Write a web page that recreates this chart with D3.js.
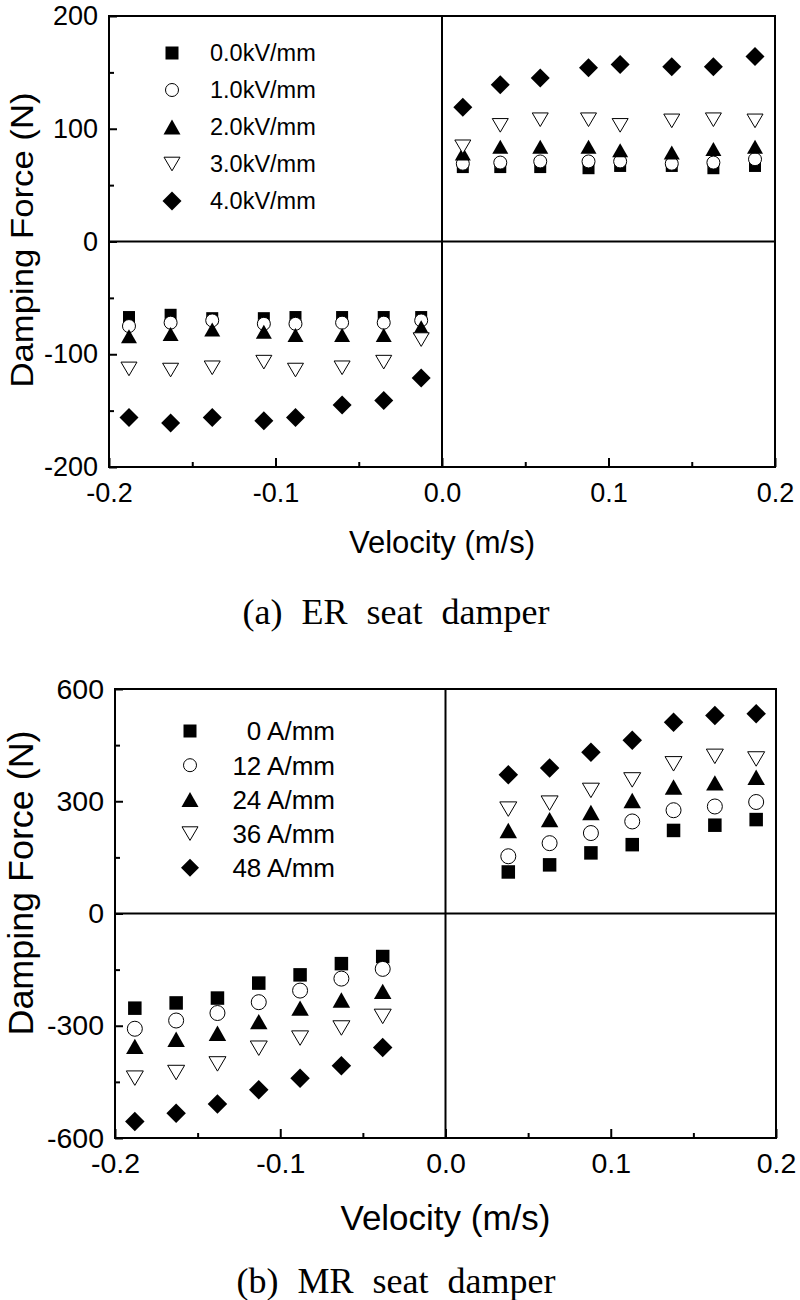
<!DOCTYPE html>
<html>
<head>
<meta charset="utf-8">
<script src="https://cdn.jsdelivr.net/npm/d3@7"></script>
<style>
    body { margin: 0; background: white; }
    svg { display: block; }
    text { font-family: "Liberation Sans", Arial, sans-serif; fill: black; }
    .caption { font-family: "Liberation Serif", "Times New Roman", serif; }
</style>
</head>
<body>
<svg id="chart" width="800" height="1300"></svg>
<script>
    // (a) ER seat damper
    let erVelocity = [-0.188, -0.163, -0.138, -0.107, -0.088, -0.060, -0.035, -0.0125,
        0.0125, 0.035, 0.059, 0.088, 0.107, 0.138, 0.163, 0.188]
    let erForce00 = [-67, -65, -68, -68, -67, -67, -67, -67, 66, 66, 66, 65, 67, 67, 65, 67]
    let erForce10 = [-75, -72, -70, -73, -73, -72, -72, -70, 69, 70, 71, 71, 71, 69, 70, 73]
    let erForce20 = [-84, -82, -78, -80, -83, -83, -83, -76, 78, 84, 84, 84, 81, 79, 82, 84]
    let erForce30 = [-113, -114, -112, -107, -114, -112, -107, -87, 84, 103, 108, 108, 103, 107, 108, 107]
    let erForce40 = [-156, -161, -156, -159, -156, -145, -141, -121, 119, 139, 145, 154, 157, 155, 155, 164]
    let erLabels = ["0.0kV/mm", "1.0kV/mm", "2.0kV/mm", "3.0kV/mm", "4.0kV/mm"]
    let erYTicks = [-200, -100, 0, 100, 200]
    let erYMinor = [-150, -50, 50, 150]

    // (b) MR seat damper
    let mrVelocity = [-0.188, -0.163, -0.138, -0.113, -0.088, -0.063, -0.038,
        0.038, 0.063, 0.088, 0.113, 0.138, 0.163, 0.188]
    let mrForce0 = [-253, -239, -226, -186, -164, -134, -115, 111, 130, 162, 184, 222, 236, 251]
    let mrForce12 = [-308, -286, -266, -237, -206, -174, -148, 153, 188, 215, 246, 276, 286, 298]
    let mrForce24 = [-355, -336, -320, -289, -253, -231, -208, 222, 251, 270, 302, 338, 349, 364]
    let mrForce36 = [-440, -425, -402, -360, -333, -306, -275, 279, 295, 329, 357, 400, 420, 413]
    let mrForce48 = [-556, -534, -509, -471, -440, -407, -358, 371, 389, 431, 463, 511, 529, 534]
    let mrLabels = ["0 A/mm", "12 A/mm", "24 A/mm", "36 A/mm", "48 A/mm"]
    let mrYTicks = [-600, -300, 0, 300, 600]
    let mrYMinor = [-450, -150, 150, 450]

    let xTicks = [-0.2, -0.1, 0.0, 0.1, 0.2]
    let xMinor = [-0.15, -0.05, 0.05, 0.15]

    // SYMBOLS (size = nominal width in px)
    let square = { draw(ctx, s) { ctx.rect(-s / 2, -s / 2, s, s) } }
    let circle = { draw(ctx, s) { ctx.moveTo(s / 2, 0); ctx.arc(0, 0, s / 2, 0, 2 * Math.PI) } }
    let triUp = { draw(ctx, s) { let h = s * 0.88; ctx.moveTo(0, -h / 2); ctx.lineTo(s / 2, h / 2); ctx.lineTo(-s / 2, h / 2); ctx.closePath() } }
    let triDown = { draw(ctx, s) { let h = s * 0.85; ctx.moveTo(0, h / 2); ctx.lineTo(s / 2, -h / 2); ctx.lineTo(-s / 2, -h / 2); ctx.closePath() } }
    let diamond = { draw(ctx, s) { ctx.moveTo(0, -s / 2); ctx.lineTo(s / 2, 0); ctx.lineTo(0, s / 2); ctx.lineTo(-s / 2, 0); ctx.closePath() } }
    let symbolTypes = [square, circle, triUp, triDown, diamond]
    let symbolFilled = [true, false, true, false, true]

    let svg = d3.select("#chart")

    drawPanel({
        velocity: erVelocity,
        series: [erForce00, erForce10, erForce20, erForce30, erForce40],
        labels: erLabels, yTicks: erYTicks, yMinor: erYMinor,
        yDomain: [-200, 200],
        left: 109, right: 775, top: 16, bottom: 467,
        sizes: [12, 13, 16, 16, 19],
        tickFont: 27, titleFont: 31, titleCenter: 240, titleLength: 295,
        xTitleY: 553,
        legend: { symX: 172, textX: 210, y0: 53, step: 37, font: 23.5, anchor: "start", sizes: [13, 13, 17, 16, 19] },
        caption: "(a) ER seat damper", captionY: 624
    })

    drawPanel({
        velocity: mrVelocity,
        series: [mrForce0, mrForce12, mrForce24, mrForce36, mrForce48],
        labels: mrLabels, yTicks: mrYTicks, yMinor: mrYMinor,
        yDomain: [-600, 600],
        left: 115, right: 776, top: 689, bottom: 1138,
        sizes: [13.5, 15, 17.5, 17, 19.5],
        tickFont: 28.5, titleFont: 35, titleCenter: 883, titleLength: 305,
        xTitleY: 1230,
        legend: { symX: 190, textX: 335, y0: 731, step: 34.2, font: 26, anchor: "end", sizes: [13, 13, 17, 16, 18] },
        caption: "(b) MR seat damper", captionY: 1293
    })

    function drawPanel(cfg) {
        let xScale = d3.scaleLinear().domain([-0.2, 0.2]).range([cfg.left, cfg.right])
        let yScale = d3.scaleLinear().domain(cfg.yDomain).range([cfg.bottom, cfg.top])
        let g = svg.append("g")

        // zero lines
        g.append("line")
            .attr("x1", cfg.left).attr("x2", cfg.right)
            .attr("y1", yScale(0)).attr("y2", yScale(0))
            .attr("stroke", "black").attr("stroke-width", 2)
        g.append("line")
            .attr("x1", xScale(0)).attr("x2", xScale(0))
            .attr("y1", cfg.top).attr("y2", cfg.bottom)
            .attr("stroke", "black").attr("stroke-width", 2)

        // axes, ticks pointing inward
        let yAxis = d3.axisLeft(yScale).tickValues(cfg.yTicks).tickSize(-8).tickPadding(11)
            .tickFormat(d3.format("d"))
        let yAxisG = g.append("g").attr("transform", `translate(${cfg.left},0)`).call(yAxis)
        let yMinorG = g.append("g").attr("transform", `translate(${cfg.left},0)`)
            .call(d3.axisLeft(yScale).tickValues(cfg.yMinor).tickSize(-5).tickFormat(""))

        let xAxis = d3.axisBottom(xScale).tickValues(xTicks).tickSize(-9).tickFormat(d3.format(".1f"))
        let xAxisG = g.append("g").attr("transform", `translate(0,${cfg.bottom})`).call(xAxis)
        let xMinorG = g.append("g").attr("transform", `translate(0,${cfg.bottom})`)
            .call(d3.axisBottom(xScale).tickValues(xMinor).tickSize(-5).tickFormat(""))

        for (let a of [yAxisG, yMinorG, xAxisG, xMinorG]) {
            a.select(".domain").remove()
            a.selectAll("line").attr("stroke", "black").attr("stroke-width", 2)
            a.selectAll("text").attr("font-size", cfg.tickFont).attr("fill", "black")
                .attr("font-family", "'Liberation Sans', Arial, sans-serif")
        }
        yAxisG.selectAll("text").text(d => d3.format("d")(d).replace("−", "-"))
        xAxisG.selectAll("text").text(d => d3.format(".1f")(d).replace("−", "-"))
            .attr("y", 35).attr("dy", null)

        // frame
        g.append("rect")
            .attr("x", cfg.left).attr("y", cfg.top)
            .attr("width", cfg.right - cfg.left).attr("height", cfg.bottom - cfg.top)
            .attr("fill", "none").attr("stroke", "black").attr("stroke-width", 2)

        // data points
        cfg.series.forEach((values, i) => {
            let sym = d3.symbol().type(symbolTypes[i]).size(cfg.sizes[i])
            g.append("g").selectAll("path")
                .data(values.map((v, j) => ({ x: cfg.velocity[j], y: v })))
                .enter().append("path")
                .attr("d", sym)
                .attr("transform", d => `translate(${xScale(d.x)},${yScale(d.y)})`)
                .attr("fill", symbolFilled[i] ? "black" : "white")
                .attr("stroke", "black")
                .attr("stroke-width", symbolFilled[i] ? 0 : 1)
        })

        // legend
        let lg = cfg.legend
        cfg.labels.forEach((label, i) => {
            let y = lg.y0 + i * lg.step
            g.append("path")
                .attr("d", d3.symbol().type(symbolTypes[i]).size(lg.sizes[i]))
                .attr("transform", `translate(${lg.symX},${y})`)
                .attr("fill", symbolFilled[i] ? "black" : "white")
                .attr("stroke", "black")
                .attr("stroke-width", symbolFilled[i] ? 0 : 1)
            g.append("text")
                .attr("x", lg.textX).attr("y", y + lg.font * 0.36)
                .attr("text-anchor", lg.anchor)
                .attr("font-size", lg.font)
                .text(label)
        })

        // axis titles
        g.append("text")
            .attr("transform", "rotate(-90)")
            .attr("x", -cfg.titleCenter).attr("y", 33)
            .attr("text-anchor", "middle")
            .attr("font-size", cfg.titleFont)
            .attr("textLength", cfg.titleLength).attr("lengthAdjust", "spacingAndGlyphs")
            .text("Damping Force (N)")
        g.append("text")
            .attr("x", xScale(0)).attr("y", cfg.xTitleY)
            .attr("text-anchor", "middle")
            .attr("font-size", cfg.titleFont)
            .text("Velocity (m/s)")

        // caption
        g.append("text").attr("class", "caption")
            .attr("x", 396).attr("y", cfg.captionY)
            .attr("text-anchor", "middle")
            .attr("font-size", 36)
            .attr("word-spacing", 10)
            .text(cfg.caption)
    }
</script>
</body>
</html>
